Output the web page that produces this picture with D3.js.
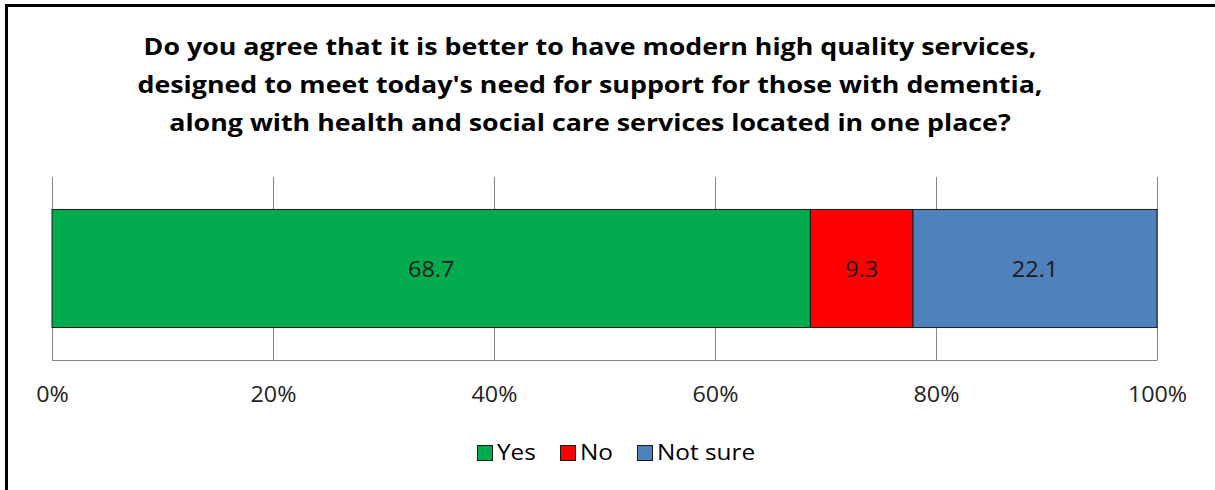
<!DOCTYPE html>
<html><head><meta charset="utf-8">
<script src="https://cdn.jsdelivr.net/npm/d3@7"></script>
<style>html,body{margin:0;padding:0;background:#fff;overflow:hidden}</style>
</head><body>
<svg id="c" width="1215" height="490"></svg>
<script>
const titleLines = [
  "Do you agree that it is better to have modern high quality services,",
  "designed to meet today's need for support for those with dementia,",
  "along with health and social care services located in one place?"
];
const categories = ["Yes", "No", "Not sure"];
const values = [68.7, 9.3, 22.1];
const colors = ["#00AB4E", "#FF0000", "#4F81BD"];
const tickValues = [0, 0.2, 0.4, 0.6, 0.8, 1.0];
const tickLabels = ["0%", "20%", "40%", "60%", "80%", "100%"];

const svg = d3.select("#c");
const font = "'Open Sans', sans-serif";

// frame
svg.append("rect").attr("x", 6.5).attr("y", 5.5).attr("width", 1240).attr("height", 520)
  .attr("fill", "none").attr("stroke", "#000").attr("stroke-width", 3);

// title
svg.append("g").selectAll("text").data(titleLines).join("text")
  .attr("transform", (d, i) => `translate(590,${55 + i * 38}) scale(1.14,1)`)
  .attr("text-anchor", "middle").attr("font-family", font).attr("font-weight", "bold")
  .attr("font-size", 23.5).attr("fill", "#000").text(d => d);

const x = d3.scaleLinear().domain([0, 1]).range([52, 1157]);
const y = d3.scaleBand().domain(["q"]).range([177, 360]).paddingInner(0).paddingOuter(0.275);

// gridlines
svg.append("g").selectAll("line").data(tickValues).join("line")
  .attr("x1", d => Math.round(x(d)) + 0.5).attr("x2", d => Math.round(x(d)) + 0.5)
  .attr("y1", 177).attr("y2", 360).attr("stroke", "#868686").attr("stroke-width", 1);
svg.append("line").attr("x1", 52).attr("x2", 1157.5).attr("y1", 360.5).attr("y2", 360.5)
  .attr("stroke", "#868686");

// stacked normalized
const total = d3.sum(values);
let cum = 0;
const segs = values.map((v, i) => { const s = {cat: categories[i], v, x0: cum / total, x1: (cum + v) / total, c: colors[i]}; cum += v; return s; });

const bars = svg.append("g");
bars.selectAll("rect").data(segs).join("rect")
  .attr("x", d => x(d.x0)).attr("width", d => x(d.x1) - x(d.x0))
  .attr("y", y("q")).attr("height", y.bandwidth())
  .attr("fill", d => d.c).attr("stroke", "#1a1a1a").attr("stroke-width", 1);
bars.selectAll("text").data(segs).join("text")
  .attr("transform", d => `translate(${(x(d.x0) + x(d.x1)) / 2},${y("q") + y.bandwidth() / 2 + 8}) scale(1.12,1)`)
  .attr("text-anchor", "middle")
  .attr("font-family", font).attr("font-size", 21).attr("fill", "#1a1a1a")
  .text(d => d.v.toFixed(1));

// axis labels
const axis = d3.axisBottom(x).tickValues(tickValues).tickFormat((d, i) => tickLabels[i]).tickSize(0).tickPadding(0);
const ag = svg.append("g").attr("transform", "translate(0,402)").call(axis);
ag.select(".domain").remove();
ag.selectAll("text").attr("font-family", font).attr("font-size", 21).attr("fill", "#222")
  .attr("dy", 0).attr("y", 0).attr("transform", "scale(1.11,1)");

// legend
const legX = [477, 560, 637];
const lg = svg.append("g").selectAll("g").data(categories).join("g")
  .attr("transform", (d, i) => `translate(${legX[i]},445)`);
lg.append("rect").attr("x", 0.5).attr("y", 0.5).attr("width", 15).attr("height", 15).attr("fill", (d, i) => colors[i])
  .attr("stroke", "#1a1a1a").attr("stroke-width", 1);
lg.append("text").attr("transform", "translate(20,14.5) scale(1.16,1)")
  .attr("font-family", font).attr("font-size", 21).attr("fill", "#000").text(d => d);
</script>
</body></html>
